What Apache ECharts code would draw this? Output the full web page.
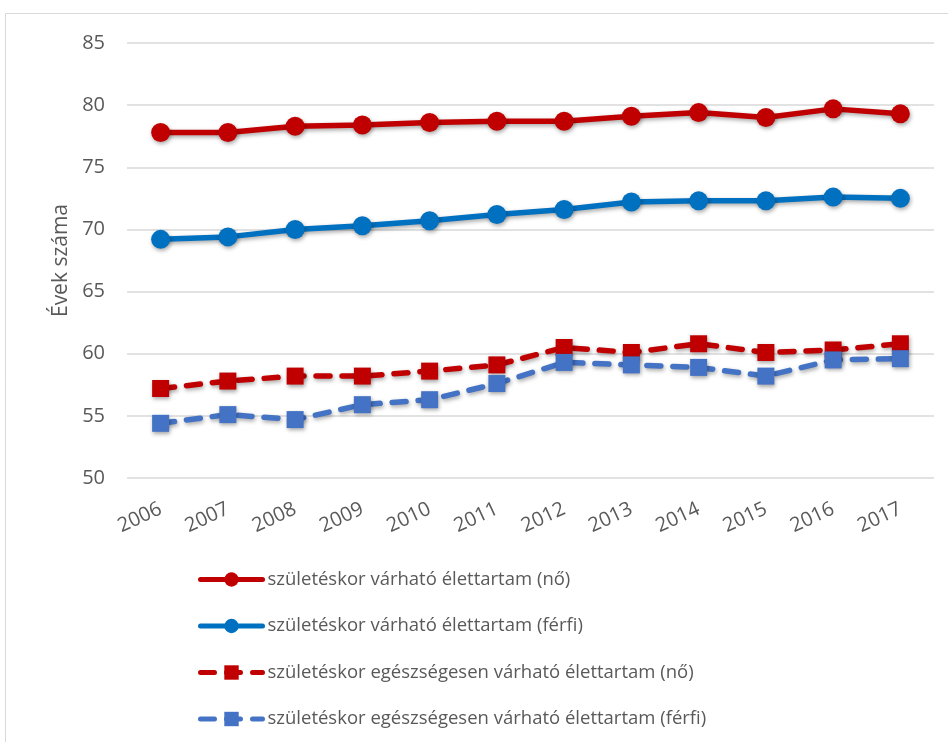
<!DOCTYPE html>
<html>
<head>
<meta charset="utf-8">
<script src="https://cdn.jsdelivr.net/npm/echarts@6/dist/echarts.min.js"></script>
<style>
  html, body { margin: 0; padding: 0; background: #fff; overflow: hidden; }
  #main { width: 948px; height: 742px; }
</style>
</head>
<body>
<div id="main"></div>
<script>
// evek
var years = ['2006', '2007', '2008', '2009', '2010', '2011', '2012', '2013', '2014', '2015', '2016', '2017'];

// szuleteskor varhato elettartam
var noVarhato = [77.8, 77.8, 78.3, 78.4, 78.6, 78.7, 78.7, 79.1, 79.4, 79.0, 79.7, 79.3];
var ferfiVarhato = [69.2, 69.4, 70.0, 70.3, 70.7, 71.2, 71.6, 72.2, 72.3, 72.3, 72.6, 72.5];

// egeszsegesen varhato elettartam
var noEgeszseges = [57.2, 57.8, 58.2, 58.2, 58.6, 59.1, 60.5, 60.1, 60.8, 60.1, 60.3, 60.8];
var ferfiEgeszseges = [54.4, 55.1, 54.7, 55.9, 56.3, 57.6, 59.3, 59.1, 58.9, 58.2, 59.5, 59.6];

var seriesNames = [
    'születéskor várható élettartam (nő)',
    'születéskor várható élettartam (férfi)',
    'születéskor egészségesen várható élettartam (nő)',
    'születéskor egészségesen várható élettartam (férfi)'
];

var yTicks = { min: 50, max: 85, step: 5 };

function chart(){
    var myChart = echarts.init(document.getElementById('main'));
    var font = '"Open Sans", sans-serif';
    var shadow = {
        shadowColor: 'rgba(0,0,0,0.35)',
        shadowBlur: 4,
        shadowOffsetX: 1,
        shadowOffsetY: 2
    };

    function makeSeries(name, data, color, dashed) {
        return {
            name: name,
            type: 'line',
            data: data,
            symbol: dashed ? 'rect' : 'circle',
            symbolSize: dashed ? 17 : 19,
            lineStyle: Object.assign({
                color: color,
                width: 5.5,
                type: dashed ? [14, 12] : 'solid',
                cap: 'round'
            }, shadow),
            itemStyle: Object.assign({
                color: color
            }, shadow),
            emphasis: { disabled: true }
        };
    }

    var option = {
        animation: false,
        graphic: [{
            type: 'rect',
            shape: { x: 5.5, y: 13.5, width: 1000, height: 1000 },
            style: { fill: 'none', stroke: '#d9d9d9', lineWidth: 1 },
            silent: true
        }],
        grid: {
            left: 127,
            right: 14,
            top: 43,
            bottom: 264
        },
        legend: {
            orient: 'vertical',
            left: 198,
            top: 570,
            padding: 0,
            itemWidth: 62,
            itemHeight: 18,
            itemGap: 27.5,
            lineStyle: { width: 5, cap: 'round' },
            textStyle: {
                fontFamily: font,
                fontSize: 18.5,
                color: '#595959'
            },
            data: seriesNames
        },
        xAxis: {
            type: 'category',
            data: years,
            boundaryGap: true,
            axisLine: { show: false },
            axisTick: { show: false },
            axisLabel: {
                rotate: 25,
                margin: 30,
                fontFamily: font,
                fontSize: 20,
                color: '#595959'
            }
        },
        yAxis: {
            type: 'value',
            min: yTicks.min,
            max: yTicks.max,
            interval: yTicks.step,
            name: 'Évek száma',
            nameLocation: 'middle',
            nameGap: 55,
            nameRotate: 90,
            nameTextStyle: {
                fontFamily: font,
                fontSize: 21,
                color: '#595959'
            },
            axisLine: { show: false },
            axisTick: { show: false },
            axisLabel: {
                margin: 22,
                fontFamily: font,
                fontSize: 20,
                color: '#595959'
            },
            splitLine: {
                lineStyle: { color: '#d9d9d9', width: 1.5 }
            }
        },
        series: [
            makeSeries(seriesNames[0], noVarhato, '#C00000', false),
            makeSeries(seriesNames[1], ferfiVarhato, '#0070C0', false),
            makeSeries(seriesNames[2], noEgeszseges, '#C00000', true),
            makeSeries(seriesNames[3], ferfiEgeszseges, '#4472C4', true)
        ]
    };
    myChart.setOption(option);
}

chart();
</script>
</body>
</html>
